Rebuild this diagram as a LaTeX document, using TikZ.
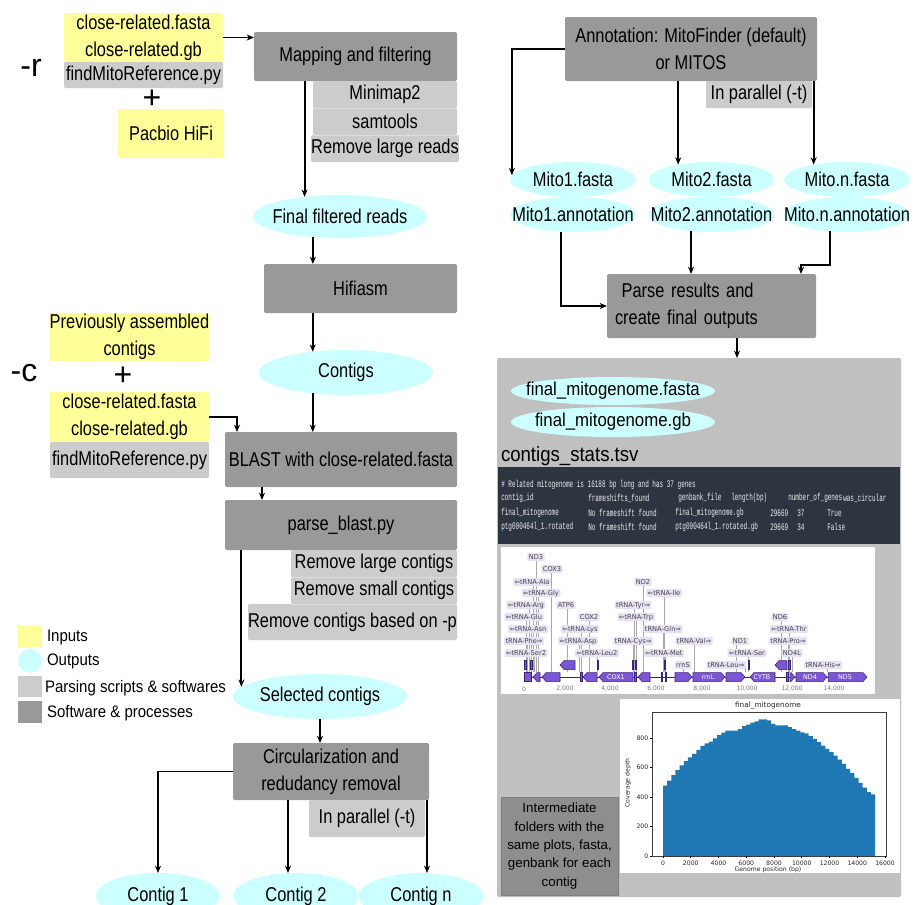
\documentclass[tikz,border=0pt]{standalone}
\usepackage{fontspec}
\setmainfont[FakeStretch=0.82]{Liberation Sans}
\newfontfamily\arialf{Liberation Sans}
\newfontfamily\widef[FakeStretch=0.9]{Liberation Sans}
\newfontfamily\monof[FakeStretch=0.6]{Liberation Mono}
\newfontfamily\djf{DejaVu Sans}
\usetikzlibrary{shapes.geometric, arrows.meta, calc}
\definecolor{cyel}{HTML}{FFFF99}
\definecolor{cdark}{HTML}{999999}
\definecolor{clight}{HTML}{CCCCCC}
\definecolor{ccyan}{HTML}{CCFFFF}
\definecolor{cpanel}{HTML}{C0C0C0}
\definecolor{cterm}{HTML}{2D3640}
\definecolor{cinter}{HTML}{8E8E8E}
\definecolor{cgene}{HTML}{7B55D3}
\definecolor{cgened}{HTML}{3A2478}
\definecolor{clab}{HTML}{E6E2F4}
\definecolor{cbar}{HTML}{1F77B4}
\definecolor{csep}{HTML}{DDDDDD}
\definecolor{ctt}{HTML}{EEEEEE}
\definecolor{cgl}{HTML}{AAAAAA}
\definecolor{cglt}{HTML}{464646}
\definecolor{cgax}{HTML}{787878}
\definecolor{cptx}{HTML}{282828}
\definecolor{cfr}{HTML}{3C3C3C}
\definecolor{cibd}{HTML}{7D7D7D}
\definecolor{cgline}{HTML}{323232}
\newcommand\mainsz{\fontsize{15pt}{20pt}\selectfont}
\newcommand\zw[1]{\makebox[0pt]{#1}}
\newcommand\geneL[3]{\filldraw[gene] (#1,#3) -- (#1+4,#3-4.5) -- (#2,#3-4.5) -- (#2,#3+4.5) -- (#1+4,#3+4.5) -- cycle;}
\newcommand\geneR[3]{\filldraw[gene] (#2,#3) -- (#2-4,#3-4.5) -- (#1,#3-4.5) -- (#1,#3+4.5) -- (#2-4,#3+4.5) -- cycle;}
\newcommand\geneS[3]{\filldraw[gene] (#1,#3-4.5) rectangle (#2,#3+4.5);}
\tikzset{
  base/.style={inner sep=0pt, outer sep=0pt, align=center, font=\mainsz, text=black},
  wh/.style 2 args={minimum width=#1*0.75pt, minimum height=#2*0.75pt},
  inp/.style={base, rectangle, fill=cyel, rounded corners=1.5pt},
  proc/.style={base, rectangle, fill=cdark, rounded corners=1.5pt},
  scr/.style={base, rectangle, fill=clight, rounded corners=1pt},
  outp/.style={base, ellipse, fill=ccyan},
  arr/.style={line width=1.4pt, -{Stealth[length=5.5pt,width=4.5pt]}},
  sepln/.style={csep, line width=0.6pt},
  legt/.style={base, anchor=west, font=\widef\fontsize{12.5pt}{15pt}\selectfont},
  biglab/.style={base, font=\arialf\fontsize{24pt}{26pt}\selectfont},
  tt/.style={anchor=west, inner sep=0pt, font=\monof\fontsize{7.5pt}{8pt}\selectfont, text=ctt},
  glab/.style={inner xsep=1.1pt, inner ysep=0.9pt, text height=3.8pt, text depth=0.6pt, fill=clab, rounded corners=1pt, text=cglt, font=\djf\fontsize{5pt}{6pt}\selectfont},
  gene/.style={fill=cgene, draw=cgened, line width=0.4pt},
  gtxt/.style={inner sep=0pt, text=white, font=\djf\fontsize{4.8pt}{6pt}\selectfont},
  gax/.style={inner sep=0pt, text=cgax, font=\djf\fontsize{4.5pt}{5pt}\selectfont},
  ptxt/.style={inner sep=0pt, text=cptx, font=\djf\fontsize{4.6pt}{5pt}\selectfont}
}
\begin{document}
\begin{tikzpicture}[x=0.75pt,y=-0.75pt]
\useasboundingbox (0,0) rectangle (919,904);
\fill[white] (0,0) rectangle (919,904);

% ---------------- left column ----------------
\node[biglab] (rlab) at (31,68) {-r};
\node[inp, wh={159}{49}] (in1) at (143.5,37.5) {close-related.fasta\\close-related.gb};
\node[scr, wh={159}{26}] (find1) at (143.5,75) {findMitoReference.py};
\node[biglab] (plus1) at (152,99) {+};
\node[inp, wh={106}{49}] (hifi) at (171,133.5) {Pacbio HiFi};

\node[proc, wh={203}{49}] (map) at (355.5,56.5) {Mapping and filtering};
\node[scr, wh={144}{27}] (mm1) at (385,94.5) {Minimap2};
\node[scr, wh={144}{27}] (mm2) at (385,121.5) {samtools};
\node[scr, wh={144}{27}] (mm3) at (385,148.5) {Remove large reads};
\draw[sepln] (mm1.south west) -- (mm1.south east);
\draw[sepln] (mm2.south west) -- (mm2.south east);

\node[outp, wh={174}{43}] (ffr) at (340,216.5) {\zw{Final filtered reads}};
\node[proc, wh={193}{49}] (hif) at (360.5,288.5) {Hifiasm};
\node[outp, wh={174}{45}] (ctg) at (346,372.5) {\zw{Contigs}};

\node[biglab] (clab) at (24,373) {-c};
\node[inp, wh={159}{48}] (prev) at (129.5,337) {Previously assembled\\contigs};
\node[biglab] (plus2) at (123,376) {+};
\node[inp, wh={159}{50}] (in2) at (129.5,417) {close-related.fasta\\close-related.gb};
\node[scr, wh={159}{36}] (find2) at (129.5,460) {findMitoReference.py};

\node[proc, wh={232}{55}] (blast) at (341,459.5) {BLAST with close-related.fasta};
\node[proc, wh={232}{50}] (parse) at (341,525) {parse\_blast.py};
\node[scr, wh={166}{27}] (rl) at (374,563.5) {Remove large contigs};
\node[scr, wh={166}{27}] (rs) at (374,590.5) {Remove small contigs};
\node[scr, wh={209}{36}] (rp) at (352.5,622) {Remove contigs based on -p};
\draw[sepln] (rl.south west) -- (rl.south east);
\draw[sepln] (rs.south west) -- (rs.south east);

\node[outp, wh={174}{45}] (sel) at (320,696.5) {\zw{Selected contigs}};
\node[proc, wh={196}{57}] (circ) at (331,771.5) {Circularization and\\redudancy removal};
\node[scr, wh={116}{37}] (par2) at (367,818.5) {In parallel (-t)};
\node[outp, wh={124}{46}] (c1) at (158,896) {\zw{Contig 1}};
\node[outp, wh={125}{46}] (c2) at (296,896) {\zw{Contig 2}};
\node[outp, wh={125}{46}] (cn) at (421,896) {\zw{Contig n}};

% legend
\node[base, fill=cyel, wh={24}{21}] (lgi) at (30,636.5) {};
\node[legt] (lgit) at (47,637) {Inputs};
\node[base, circle, fill=ccyan, minimum size=18pt] (lgo) at (30,661) {};
\node[legt] (lgot) at (47,661) {Outputs};
\node[base, fill=clight, wh={24}{21}] (lgp) at (30,686.5) {};
\node[legt] (lgpt) at (45,688) {Parsing scripts \& softwares};
\node[base, fill=cdark, wh={24}{22}] (lgs) at (30,712) {};
\node[legt] (lgst) at (47,713) {Software \& processes};

% left connectors
\draw[arr] (in1.east) -- (in1.east -| map.west);
\draw[arr] (ffr.151 |- map.south) -- (ffr.151);
\draw[arr] (ffr.217) -- (ffr.217 |- hif.north);
\draw[arr] (ctg.148 |- hif.south) -- (ctg.148);
\draw[arr] (ctg.212) -- (ctg.212 |- blast.north);
\coordinate (bin) at ($(blast.north west)+(12,0)$);
\draw[arr] (in2.east) -| (bin);
\coordinate (bout) at ($(blast.south west)+(37,0)$);
\draw[arr] (bout) -- (bout |- parse.north);
\draw[arr] (sel.173 |- parse.south) -- (sel.173);
\draw[arr] (sel.south) -- (sel.south |- circ.north);
\draw[arr] (circ.west) -| (c1.north);
\coordinate (cout1) at ($(circ.south west)+(55,0)$);
\draw[arr] (cout1) -- (cout1 |- c2.north);
\coordinate (cout2) at ($(circ.south east)+(-2,0)$);
\draw[arr] (cout2) -- (cout2 |- cn.north);

% ---------------- right column ----------------
\node[proc, wh={252}{64}] (ann) at (691,49) {Annotation: MitoFinder (default)\\or MITOS};
\node[scr, wh={106}{27}] (par1) at (759,94.5) {In parallel (-t)};
\node[outp, wh={126}{35}] (m1f) at (573,179.5) {\zw{Mito1.fasta}};
\node[outp, wh={126}{35}] (m1a) at (573,214.5) {\zw{Mito1.annotation}};
\node[outp, wh={126}{35}] (m2f) at (711.5,179.5) {\zw{Mito2.fasta}};
\node[outp, wh={126}{35}] (m2a) at (711.5,214.5) {\zw{Mito2.annotation}};
\node[outp, wh={126}{35}] (mnf) at (847,179.5) {\zw{Mito.n.fasta}};
\node[outp, wh={126}{35}] (mna) at (847,214.5) {\zw{Mito.n.annotation}};
\node[proc, wh={209}{64}, align=left, inner xsep=6pt, text width=144.75pt] (parse2) at (711.5,306) {\hspace*{5pt}Parse results and\\create final outputs};

\draw[arr] (ann.west) -| (m1f.176);
\draw[arr] (m2f.156 |- ann.south) -- (m2f.156);
\draw[arr] (mnf.156 |- ann.south) -- (mnf.156);
\draw[arr] (m1a.235) |- (parse2.west);
\draw[arr] (m2a.219) -- (m2a.219 |- parse2.north);
\coordinate (pin) at ($(parse2.north east)+(-15,0)$);
\draw[arr] (mna.225) |- ($(pin)+(0,-9)$) -- (pin);

% panel
\node[base, fill=cpanel, wh={404}{539}, rounded corners=1pt] (panel) at (699,627.5) {};
\coordinate (pout) at ($(parse2.south west)+(130,0)$);
\draw[arr] (pout) -- (pout |- panel.north);

\node[outp, wh={204}{28}, font=\widef\fontsize{14pt}{16pt}\selectfont] (fmf) at (613,391) {\zw{final\_mitogenome.fasta}};
\node[outp, wh={204}{30}, font=\widef\fontsize{14pt}{16pt}\selectfont] (fmg) at (613,422) {\zw{final\_mitogenome.gb}};
\node[base, anchor=base west, font=\widef\fontsize{15.5pt}{17pt}\selectfont] (cst) at (501,461) {contigs\_stats.tsv};

% terminal
\node[base, fill=cterm, wh={402}{77}] (term) at (699,505.5) {};
\node[tt] (t1) at (501,485) {\# Related mitogenome is 16188 bp long and has 37 genes};
\node[tt] (t2a) at (501,498) {contig\_id};
\node[tt] (t2b) at (588,498) {frameshifts\_found};
\node[tt] (t2c) at (678,498) {genbank\_file};
\node[tt] (t2d) at (731,498) {length(bp)};
\node[tt] (t2e) at (788,498) {number\_of\_genes};
\node[tt] (t2f) at (843,498) {was\_circular};
\node[tt] (t3a) at (501,513) {final\_mitogenome};
\node[tt] (t3b) at (588,513) {No frameshift found};
\node[tt] (t3c) at (675,513) {final\_mitogenome.gb};
\node[tt] (t3d) at (770,513) {29669};
\node[tt] (t3e) at (797,513) {37};
\node[tt] (t3f) at (827,513) {True};
\node[tt] (t4a) at (501,527) {ptg000464l\_1.rotated};
\node[tt] (t4b) at (588,527) {No frameshift found};
\node[tt] (t4c) at (675,527) {ptg000464l\_1.rotated.gb};
\node[tt] (t4d) at (770,527) {29669};
\node[tt] (t4e) at (797,527) {34};
\node[tt] (t4f) at (827,527) {False};

% genome map
\node[base, fill=white, wh={374}{147}] (gmap) at (688,620.5) {};
\foreach \x/\y/\lx in {536/557/536, 552/569/551, 532/582/533, 541/593/538, 526/605/529, 566/605/567, 524/617/526, 589/617/589, 528/629/531, 580/629/581, 524/641/527, 578/641/579, 526/653/534, 597/653/597, 643/582/643, 664/593/664, 633/605/634, 636/617/636, 663/629/663, 633/641/633, 664/653/665, 694/641/694, 683/665/683, 740/641/736, 747/653/748, 726/665/745, 780/617/781, 789/629/789, 788/641/788, 792/653/792, 823/665/827}
  { \draw[line width=0.5pt, cgl] (\lx,\y) -- (\lx,672); }
\draw[line width=0.6pt, cgline] (524,677) -- (866,677);
% main row
\geneS{524}{531}{677}
\geneL{533}{540}{677}
\geneL{542}{560}{677}
\geneS{580}{582}{677}
\geneL{583}{597}{677}
\geneL{599}{633}{677}
\geneS{634}{636}{677}
\geneL{638}{650}{677}
\geneS{661}{662}{677}
\geneS{665}{666}{677}
\geneR{675}{692}{677}
\geneR{693}{725}{677}
\geneR{726}{745}{677}
\geneL{750}{775}{677}
\geneS{786}{788}{677}
\geneR{790}{795}{677}
\geneR{796}{827}{677}
\geneR{828}{867}{677}
% upper row
\geneS{524}{526}{665}
\geneS{530}{532}{665}
\geneL{560}{575}{665}
\geneS{597}{598}{665}
\geneS{632}{633}{665}
\geneS{635}{636}{665}
\geneS{664}{665}{665}
\geneS{748}{749}{665}
\geneL{775}{787}{665}
\geneS{788}{790}{665}
\node[gtxt] (gx1) at (616,677) {COX1};
\node[gtxt] (gx2) at (708,677) {rrnL};
\node[gtxt] (gx3) at (762,677) {CYTB};
\node[gtxt] (gx4) at (810,677) {ND4};
\node[gtxt] (gx5) at (845,677) {ND5};
\foreach \x/\y/\t [count=\i] in {536/557/ND3, 552/569/COX3, 532/582/⇐tRNA-Ala, 541/593/⇐tRNA-Gly, 526/605/⇐tRNA-Arg, 566/605/ATP6, 524/617/⇐tRNA-Glu, 589/617/COX2, 528/629/⇐tRNA-Asn, 580/629/⇐tRNA-Lys, 524/641/tRNA-Phe⇒, 578/641/⇐tRNA-Asp, 526/653/⇐tRNA-Ser2, 597/653/⇐tRNA-Leu2, 643/582/ND2, 664/593/⇐tRNA-Ile, 633/605/tRNA-Tyr⇒, 636/617/⇐tRNA-Trp, 663/629/tRNA-Gln⇒, 633/641/tRNA-Cys⇒, 664/653/⇐tRNA-Met, 694/641/tRNA-Val⇒, 683/665/rrnS, 740/641/ND1, 747/653/⇐tRNA-Ser, 726/665/tRNA-Leu⇒, 780/617/ND6, 789/629/⇐tRNA-Thr, 788/641/tRNA-Pro⇒, 792/653/ND4L, 823/665/tRNA-His⇒}
  { \node[glab] (gl\i) at (\x,\y) {\t}; }
\foreach \x/\t [count=\i] in {524/0, 565/{2,000}, 610/{4,000}, 656/{6,000}, 702/{8,000}, 747/{10,000}, 792/{12,000}, 834/{14,000}}
  { \node[gax] (ga\i) at (\x,689) {\t}; }

% coverage plot
\node[base, fill=white, wh={280}{174}] (plot) at (760,786) {};
\node[ptxt, font=\djf\fontsize{5.5pt}{6pt}\selectfont] (ptitle) at (768,706) {final\_mitogenome};
\def\bw{4.16}
\fill[cbar] (663,856) \foreach \v [count=\i] in {477,511,549,583,615,644,669,692,718,746,764,775,798,820,836,850,850,850,861,880,891,904,913,926,926,919,896,885,885,885,873,861,850,839,832,812,794,772,749,726,704,681,654,625,591,564,530,496,463,433,418}
  { -- ({663+(\i-1)*\bw},{856-\v*0.1475}) -- ({663+\i*\bw},{856-\v*0.1475}) } -- ({663+51*\bw},856) -- cycle;
\draw[line width=0.4pt, cfr] (652,712) rectangle (886,856);
\foreach \v [count=\i] in {0,200,400,600,800}
  { \draw[line width=0.4pt] (650,{856-\v*0.1475}) -- (652,{856-\v*0.1475});
    \node[ptxt, anchor=east] (py\i) at (648.5,{856-\v*0.1475}) {\v}; }
\foreach \v [count=\i from 0] in {0,2000,4000,6000,8000,10000,12000,14000,16000}
  { \draw[line width=0.4pt] ({663+\i*27.75},856) -- ({663+\i*27.75},858);
    \node[ptxt] (px\i) at ({663+\i*27.75},863) {\v}; }
\node[ptxt] (pxl) at (768,869.5) {Genome position (bp)};
\node[ptxt, rotate=90] (pyl) at (628,783) {Coverage depth};

% intermediate
\node[base, fill=cinter, draw=cibd, line width=0.5pt, wh={117}{98}, font=\arialf\fontsize{10pt}{13.7pt}\selectfont] (inter) at (559.5,846) {Intermediate\\folders with the\\same plots, fasta,\\genbank for each\\contig};
\end{tikzpicture}
\end{document}
